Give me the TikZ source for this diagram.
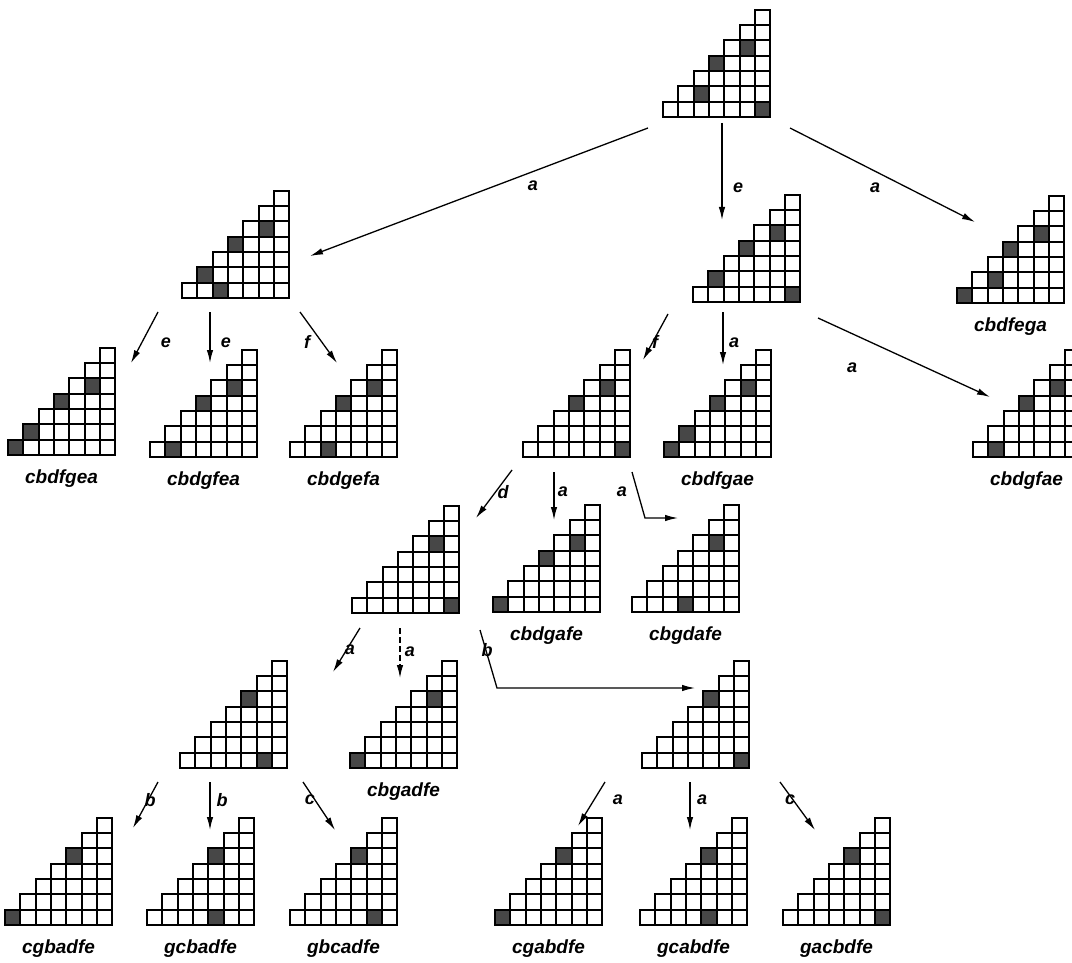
\documentclass[tikz,border=0pt]{standalone}
\usepackage{fontspec}
\setmainfont{Liberation Sans}
\usetikzlibrary{arrows.meta,calc}
\newcommand\cs{15.3}
\tikzset{
  stairbox/.style={minimum width=107pt, minimum height=107pt, inner sep=0pt, outer sep=0pt, anchor=south west},
  gridline/.style={line width=2pt, line cap=rect},
  cellshade/.style={fill=black!72},
  arr/.style={line width=1.3pt, -{Latex[length=13pt,width=6.5pt]}},
  elab/.style={font=\fontsize{18}{20}\selectfont\bfseries\itshape, inner sep=0pt},
  wlab/.style={font=\fontsize{19}{22}\selectfont\bfseries\itshape, inner sep=0pt},
}
\newcommand\stair[4]{%
  \node[stairbox] (#1) at (#2,#3) {};
  \begin{scope}[shift={(#1.south west)}]
    \foreach \c/\r in {#4} {\fill[cellshade] ({round(\c*\cs)},{-round(\r*\cs)}) rectangle ({round((\c+1)*\cs)},{-round((\r+1)*\cs)});}
    \foreach \k in {0,...,7} {\draw[gridline] ({round(max(\k-1,0)*\cs)},{-round(\k*\cs)}) -- (107,{-round(\k*\cs)});}
    \foreach \j in {0,...,7} {\draw[gridline] ({round(\j*\cs)},0) -- ({round(\j*\cs)},{-round(min(\j+1,7)*\cs)});}
  \end{scope}}
\begin{document}
\begin{tikzpicture}[x=1pt,y=-1pt]
\useasboundingbox (0,0) rectangle (1072,963);
\clip (0,0) rectangle (1072,963);
\fill[white] (0,0) rectangle (1072,963);
% diagrams
\stair{root}{663}{117}{6/0,2/1,3/3,5/4}
\stair{A}{182}{298}{2/0,1/1,3/3,5/4}
\stair{B}{693}{302}{6/0,1/1,3/3,5/4}
\stair{C}{957}{303}{0/0,2/1,3/3,5/4}
\stair{n1}{8}{455}{0/0,1/1,3/3,5/4}
\stair{n2}{150}{457}{1/0,3/3,5/4}
\stair{n3}{290}{457}{2/0,3/3,5/4}
\stair{D}{523}{457}{6/0,3/3,5/4}
\stair{n4}{664}{457}{0/0,1/1,3/3,5/4}
\stair{n5}{973}{457}{1/0,3/3,5/4}
\stair{E}{352}{613}{6/0,5/4}
\stair{n6}{493}{612}{0/0,3/3,5/4}
\stair{n7}{632}{612}{3/0,5/4}
\stair{F}{180}{768}{5/0,4/4}
\stair{n8}{350}{768}{0/0,5/4}
\stair{G}{642}{768}{6/0,4/4}
\stair{b1}{5}{925}{0/0,4/4}
\stair{b2}{147}{925}{4/0,4/4}
\stair{b3}{290}{925}{5/0,4/4}
\stair{b4}{495}{925}{0/0,4/4}
\stair{b5}{640}{925}{4/0,4/4}
\stair{b6}{783}{925}{6/0,4/4}
% word labels
\node[wlab] (wC) at ($(C.south)+(0,24)$) {cbdfega};
\node[wlab] (w1) at ($(n1.south)+(0,24)$) {cbdfgea};
\node[wlab] (w2) at ($(n2.south)+(0,24)$) {cbdgfea};
\node[wlab] (w3) at ($(n3.south)+(0,24)$) {cbdgefa};
\node[wlab] (w4) at ($(n4.south)+(0,24)$) {cbdfgae};
\node[wlab] (w5) at ($(n5.south)+(0,24)$) {cbdgfae};
\node[wlab] (w6) at ($(n6.south)+(0,24)$) {cbdgafe};
\node[wlab] (w7) at ($(n7.south)+(0,24)$) {cbgdafe};
\node[wlab] (w8) at ($(n8.south)+(0,24)$) {cbgadfe};
\node[wlab] (wb1) at ($(b1.south)+(0,24)$) {cgbadfe};
\node[wlab] (wb2) at ($(b2.south)+(0,24)$) {gcbadfe};
\node[wlab] (wb3) at ($(b3.south)+(0,24)$) {gbcadfe};
\node[wlab] (wb4) at ($(b4.south)+(0,24)$) {cgabdfe};
\node[wlab] (wb5) at ($(b5.south)+(0,24)$) {gcabdfe};
\node[wlab] (wb6) at ($(b6.south)+(0,24)$) {gacbdfe};
% arrows
\draw[arr] ($(root.south west)+(-15,11)$) -- ($(A.south west)+(128,-42)$);
\draw[arr] ($(root.south west)+(59,6)$) -- ($(B.south west)+(29,-82)$);
\draw[arr] ($(root.south west)+(127,11)$) -- ($(C.south west)+(18,-81)$);
\draw[arr] ($(A.south west)+(-24,14)$) -- ($(n1.south west)+(123,-92)$);
\draw[arr] ($(A.south west)+(28,14)$) -- ($(n2.south west)+(60,-94)$);
\draw[arr] ($(A.south west)+(118,14)$) -- ($(n3.south west)+(47,-94)$);
\draw[arr] ($(B.south west)+(-25,12)$) -- ($(D.south west)+(120,-97)$);
\draw[arr] ($(B.south west)+(30,10)$) -- ($(n4.south west)+(59,-92)$);
\draw[arr] ($(B.south west)+(125,16)$) -- ($(n5.south west)+(17,-60)$);
\draw[arr] ($(D.south west)+(-11,13)$) -- ($(E.south west)+(124,-95)$);
\draw[arr] ($(D.south west)+(31,15)$) -- ($(n6.south west)+(61,-92)$);
\draw[arr] ($(D.south west)+(109,15)$) -- ($(n7.south west)+(13,-94)$) -- ($(n7.south west)+(46,-94)$);
\draw[arr] ($(E.south west)+(8,15)$) -- ($(F.south west)+(153,-96)$);
\draw[arr, dash pattern=on 6pt off 3pt] ($(E.south west)+(48,15)$) -- ($(n8.south west)+(50,-90)$);
\draw[arr] ($(E.south west)+(128,17)$) -- ($(G.south west)+(-145,-80)$) -- ($(G.south west)+(53,-80)$);
\draw[arr] ($(F.south west)+(-22,14)$) -- ($(b1.south west)+(128,-97)$);
\draw[arr] ($(F.south west)+(30,14)$) -- ($(b2.south west)+(63,-95)$);
\draw[arr] ($(F.south west)+(123,14)$) -- ($(b3.south west)+(45,-95)$);
\draw[arr] ($(G.south west)+(-37,14)$) -- ($(b4.south west)+(83,-99)$);
\draw[arr] ($(G.south west)+(48,14)$) -- ($(b5.south west)+(50,-95)$);
\draw[arr] ($(G.south west)+(138,14)$) -- ($(b6.south west)+(32,-95)$);
% edge labels
\node[elab] (la1) at (533,186) {a};
\node[elab] (la2) at (738,188) {e};
\node[elab] (la3) at (875,188) {a};
\node[elab] (la4) at (166,343) {e};
\node[elab] (la5) at (226,343) {e};
\node[elab] (la6) at (307,342) {f};
\node[elab] (la7) at (655,342) {f};
\node[elab] (la8) at (734,343) {a};
\node[elab] (la9) at (852,368) {a};
\node[elab] (la10) at (503,492) {d};
\node[elab] (la11) at (563,492) {a};
\node[elab] (la12) at (622,492) {a};
\node[elab] (la13) at (350,650) {a};
\node[elab] (la14) at (410,652) {a};
\node[elab] (la15) at (487,650) {b};
\node[elab] (la16) at (150,800) {b};
\node[elab] (la17) at (222,800) {b};
\node[elab] (la18) at (310,800) {c};
\node[elab] (la19) at (618,800) {a};
\node[elab] (la20) at (702,800) {a};
\node[elab] (la21) at (790,800) {c};
\end{tikzpicture}
\end{document}
